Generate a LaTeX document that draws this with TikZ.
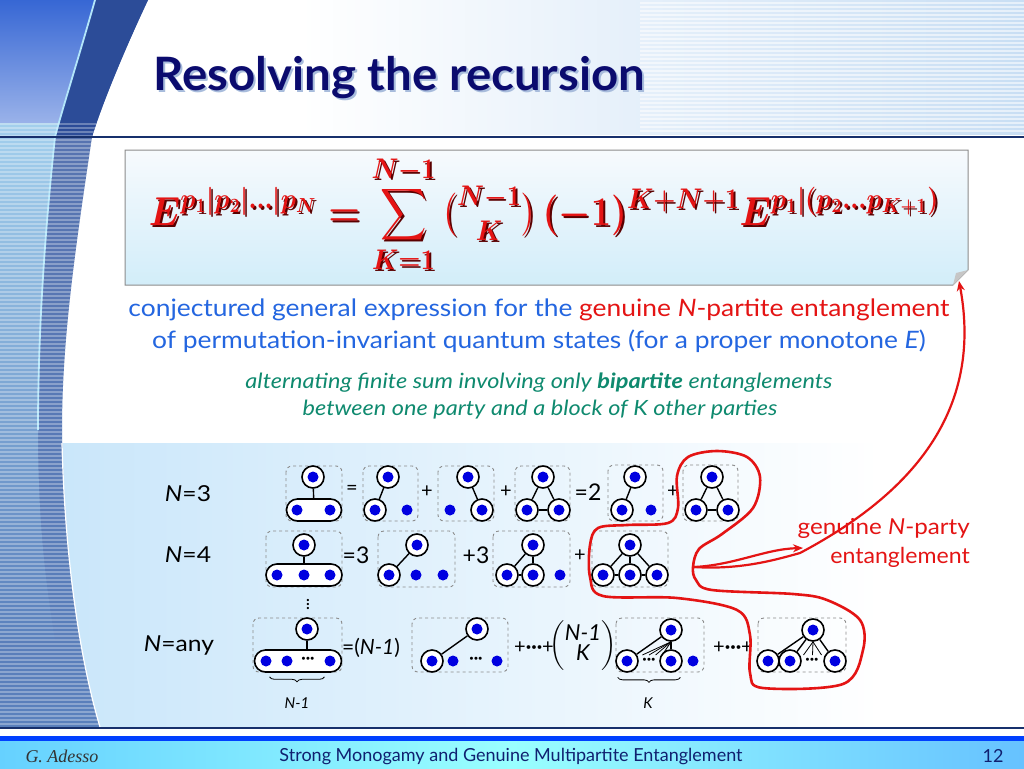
\RequirePackage{fix-cm}
\documentclass[tikz,border=0pt]{standalone}
\usepackage{amsmath}
\usepackage{fontspec}
\setmainfont{Lato}
\newfontfamily\firmafont{Liberation Serif}
\usepackage{xcolor}
\usepackage{tikz}
\usetikzlibrary{arrows.meta,positioning,shapes.misc,calc,decorations.pathreplacing}
\definecolor{marino}{HTML}{0B0B6E}
\definecolor{sombra}{HTML}{A8BCDC}
\definecolor{linea}{HTML}{17306C}
\definecolor{cielo}{HTML}{C8DEF4}
\definecolor{azulhoja}{HTML}{3767D4}
\definecolor{azulclaro}{HTML}{B4E2F8}
\definecolor{banda}{HTML}{2C4C98}
\definecolor{bandaclara}{HTML}{5A80BC}
\definecolor{rojo}{HTML}{E41414}
\definecolor{rojosombra}{HTML}{5A0000}
\definecolor{azultexto}{HTML}{2466E0}
\definecolor{verde}{HTML}{0F8A6F}
\definecolor{panel}{HTML}{C9E6FA}
\definecolor{nodoazul}{HTML}{0000E0}
\definecolor{grismarco}{HTML}{8C8C8C}
\definecolor{pie}{HTML}{102070}
\newsavebox{\cajaformula}
\newsavebox{\cajasombra}
\newsavebox{\cajabinom}
\newsavebox{\cajavpuntos}
\newcommand{\cuerpoformula}{\scalebox{1}[1.12]{\resizebox{790pt}{!}{\fontsize{28}{32}\selectfont\boldmath$\displaystyle E^{p_1\vert p_2\vert\ldots\vert p_N} = \sum_{K=1}^{N-1}{\textstyle\binom{N-1}{K}}\,(-1)^{K+N+1}E^{p_1\vert(p_2\ldots p_{K+1})}$}}}

\begin{document}
\sbox{\cajaformula}{\color{rojo}\cuerpoformula}%
\sbox{\cajasombra}{\color{rojosombra}\cuerpoformula}%
\sbox{\cajabinom}{\fontsize{22}{22}\selectfont$\left(\begin{matrix}\textit{N-1}\\[-2pt] \textit{K}\end{matrix}\right)$}%
\sbox{\cajavpuntos}{\fontsize{18}{18}\selectfont\boldmath$\vdots$}%
\begin{tikzpicture}[x=1pt,y=-1pt,
  ring/.style={circle,draw=black,line width=1.6pt,fill=white,minimum size=22pt,inner sep=0pt,
    path picture={\fill[nodoazul] (path picture bounding box.center) circle (5.5pt);}},
  dot/.style={circle,fill=nodoazul,minimum size=11pt,inner sep=0pt},
  capsula/.style={rounded rectangle,draw=black,line width=1.6pt,fill=white,minimum height=22pt,inner sep=0pt},
  marco/.style={draw=grismarco,dashed,line width=0.9pt,rounded corners=6pt},
  enlace/.style={line width=1.4pt},
  rayo/.style={line width=0.8pt},
  signo/.style={font=\fontsize{20}{20}\selectfont,inner sep=0pt},
  puntos/.style={font=\fontsize{16}{16}\selectfont\bfseries,inner sep=0pt},
  etiq/.style={font=\fontsize{22}{22}\selectfont,inner sep=0pt},
  llave/.style={decorate,decoration={brace,amplitude=5pt,mirror},line width=0.8pt},
  lazo/.style={draw=rojo,line width=2.6pt},
  flecha/.style={-{Stealth[length=10pt,width=8pt]},draw=rojo,line width=2.2pt},
  ecuacion/.style={inner sep=0pt}]
\useasboundingbox (0,0) rectangle (1024,768);
\fill[white] (0,0) rectangle (1024,768);
% cabecera
\shade[left color=white,right color=cielo] (300,0) rectangle (1024,134);
\foreach \y in {3,7,...,131} \draw[white,line width=1.5pt,opacity=0.55] (640,\y) -- (1024,\y);
% panel de diagramas
\shade[left color=panel,right color=white] (50,443) rectangle (880,726);
% banda izquierda
\shade[top color=banda!80!white,bottom color=bandaclara] (0,0) -- (148,0) .. controls (122,55) and (100,110) .. (92,137) .. controls (75,250) and (62,340) .. (62,430) .. controls (64,560) and (80,660) .. (100,727) -- (0,727) -- cycle;
\begin{scope}
  \clip (0,0) rectangle (150,137);
  \fill[banda] (95,0) -- (148,0) .. controls (122,55) and (100,110) .. (92,137) -- (55,137) .. controls (62,110) and (78,60) .. (95,0) -- cycle;
\end{scope}
\begin{scope}
  \clip (0,122) rectangle (150,727);
  \shade[top color=azulclaro,bottom color=bandaclara] (0,0) -- (95,0) .. controls (78,60) and (62,110) .. (55,137) .. controls (45,230) and (38,330) .. (38,430) .. controls (38,520) and (45,580) .. (55,640) -- (0,640) -- cycle;
\end{scope}
\begin{scope}
  \clip (0,0) rectangle (150,122);
  \shade[top color=azulhoja,bottom color=azulhoja!45!white] (0,0) -- (95,0) .. controls (78,60) and (62,110) .. (55,137) -- (0,137) -- cycle;
\end{scope}
\draw[white!70!cyan,line width=1.8pt] (95,0) .. controls (78,60) and (62,110) .. (55,137) .. controls (45,230) and (38,330) .. (38,430);
\draw[white,line width=1.2pt] (62,443) .. controls (65,560) and (80,660) .. (100,727);
\begin{scope}
  \clip (0,122) -- (150,122) -- (150,0) -- (148,0) .. controls (122,55) and (100,110) .. (92,137) .. controls (75,250) and (62,340) .. (62,430) .. controls (64,560) and (80,660) .. (100,727) -- (0,727) -- cycle;
  \foreach \y in {124,128,...,724} \draw[white,line width=1.2pt,opacity=0.3] (0,\y) -- (150,\y);
\end{scope}
\draw[linea,line width=2.5pt] (0,137) -- (1024,137);
% titulo
\node[anchor=base west,text=sombra,font=\fontsize{46}{50}\selectfont\bfseries] at (152,92) {\scalebox{1.03}[1]{Resolving the recursion}};
\node[anchor=base west,text=marino,font=\fontsize{46}{50}\selectfont\bfseries] (titulo) at (150,90) {\scalebox{1.03}[1]{Resolving the recursion}};
% recuadro de la formula
\shade[top color=white!85!cielo,bottom color=cielo!90!cyan!60,draw=grismarco,line width=1pt] (125,150) -- (968,150) -- (968,270) -- (953,285) -- (125,285) -- cycle;
\fill[gray!45] (968,270) -- (953,285) -- (956,273) -- cycle;
\coordinate (pliegue) at (959,281);
\node[ecuacion] (formulasombra) at (546,216) {\usebox{\cajasombra}};
\node[ecuacion] (formula) at (544,214) {\usebox{\cajaformula}};
% textos
\node[text=azultexto,font=\fontsize{24}{28}\selectfont] (texto1) at (539,310) {\scalebox{1.1}[1]{conjectured general expression for the \textcolor{rojo}{genuine \textit{N}-partite entanglement}}};
\node[text=azultexto,font=\fontsize{24}{28}\selectfont] (texto2) at (539,341) {\scalebox{1.1}[1]{of permutation-invariant quantum states (for a proper monotone \textit{E})}};
\node[text=verde,font=\fontsize{21}{24}\selectfont\itshape] (nota1) at (539,383) {\scalebox{1.12}[1]{alternating finite sum involving only \textbf{bipartite} entanglements}};
\node[text=verde,font=\fontsize{21}{24}\selectfont\itshape] (nota2) at (540,410) {\scalebox{1.12}[1]{between one party and a block of K other parties}};
% fila N=3
\node[etiq] (n3) at (188,494) {\scalebox{1.12}[1]{\textit{N}=3}};
\draw[marco] (286,466) rectangle (342,521);
\node[capsula,minimum width=55pt] (c31) at (314,510) {};
\node[ring] (t31) at (313,477) {};
\node[dot] at (297,510) {};
\node[dot] at (330,510) {};
\draw[enlace] (t31) -- (c31);
\node[signo] (e31) at (352,490) {=};
\draw[marco] (363,466) rectangle (418,521);
\node[ring] (t32) at (388,477) {};
\node[ring] (l32) at (375,510) {};
\node[dot] (r32) at (407,510) {};
\draw[enlace] (t32) -- (l32);
\node[signo] (e32) at (427,492) {+};
\draw[marco] (438,466) rectangle (494,521);
\node[ring] (t33) at (468,477) {};
\node[dot] (l33) at (450,510) {};
\node[ring] (r33) at (482,510) {};
\draw[enlace] (t33) -- (r33);
\node[signo] (e33) at (506,492) {+};
\draw[marco] (515,466) rectangle (570,521);
\node[ring] (t34) at (543,477) {};
\node[ring] (l34) at (527,510) {};
\node[ring] (r34) at (559,510) {};
\draw[enlace] (t34) -- (l34);
\draw[enlace] (t34) -- (r34);
\draw[enlace] (l34) -- (r34);
\node[signo,font=\fontsize{23}{23}\selectfont] (e34) at (588,492) {=2};
\draw[marco] (608,465) rectangle (663,521);
\node[ring] (t35) at (635,477) {};
\node[ring] (l35) at (622,510) {};
\node[dot] (r35) at (651,510) {};
\draw[enlace] (t35) -- (l35);
\node[signo] (e35) at (673,492) {+};
\draw[marco] (683,465) rectangle (738,521);
\node[ring] (t36) at (712,477) {};
\node[ring] (l36) at (696,510) {};
\node[ring] (r36) at (728,510) {};
\draw[enlace] (t36) -- (l36);
\draw[enlace] (t36) -- (r36);
\draw[enlace] (l36) -- (r36);
% fila N=4
\node[etiq] (n4) at (188,555) {\scalebox{1.12}[1]{\textit{N}=4}};
\draw[marco] (266,531) rectangle (342,587);
\node[capsula,minimum width=76pt] (c41) at (304,575) {};
\node[ring] (t41) at (304,545) {};
\foreach \x in {277,304,330} \node[dot] at (\x,575) {};
\draw[enlace] (t41) -- (c41);
\node[signo,font=\fontsize{23}{23}\selectfont] (e41) at (356,555) {=3};
\draw[marco] (378,531) rectangle (455,587);
\node[ring] (t42) at (417,545) {};
\node[ring] (a42) at (389,575) {};
\node[dot] at (416,575) {};
\node[dot] at (443,575) {};
\draw[enlace] (t42) -- (a42);
\node[signo,font=\fontsize{23}{23}\selectfont] (e42) at (476,555) {+3};
\draw[marco] (493,531) rectangle (570,587);
\node[ring] (t43) at (533,545) {};
\node[ring] (a43) at (507,575) {};
\node[ring] (b43) at (533,575) {};
\node[dot] at (560,575) {};
\draw[enlace] (t43) -- (a43);
\draw[enlace] (t43) -- (b43);
\draw[enlace] (a43) -- (b43);
\node[signo] (e43) at (580,556) {+};
\draw[marco] (592,531) rectangle (668,587);
\node[ring] (t44) at (630,545) {};
\node[ring] (a44) at (603,575) {};
\node[ring] (b44) at (630,575) {};
\node[ring] (c44) at (657,575) {};
\draw[enlace] (t44) -- (a44);
\draw[enlace] (t44) -- (b44);
\draw[enlace] (t44) -- (c44);
\draw[enlace] (a44) -- (b44);
\draw[enlace] (b44) -- (c44);
\node[inner sep=0pt] (vpuntos) at (308,601) {\usebox{\cajavpuntos}};
% fila N=any
\node[etiq] (nany) at (179,645) {\scalebox{1.12}[1]{\textit{N}=any}};
\draw[marco] (253,618) rectangle (342,672);
\node[capsula,minimum width=87pt] (c51) at (298,661) {};
\node[ring] (t51) at (307,629) {};
\node[dot] at (266,661) {};
\node[dot] at (287,661) {};
\node[puntos] at (308,660) {···};
\node[dot] at (330,661) {};
\draw[enlace] (t51) -- (t51 |- c51.north);
\draw[llave] ($(c51.south west)+(4,4)$) -- ($(c51.south east)+(-6,4)$);
\node[font=\fontsize{15}{15}\selectfont\itshape] (lab1) at (297,703) {N-1};
\node[signo,font=\fontsize{21}{21}\selectfont] (e51) at (371,648) {=(\textit{N-1})};
\draw[marco] (412,618) rectangle (508,672);
\node[ring] (t52) at (477,629) {};
\node[ring] (a52) at (432,661) {};
\node[dot] at (453,661) {};
\node[puntos] at (476,660) {···};
\node[dot] at (497,661) {};
\draw[enlace] (t52) -- (a52);
\node[signo] (e52) at (534,648) {+\textbf{···}+};
\node[inner sep=0pt] (binom) at (583,646) {\usebox{\cajabinom}};
\draw[marco] (616,618) rectangle (704,672);
\node[ring] (t53) at (671,630) {};
\node[ring] (a53) at (627,661) {};
\node[ring] (b53) at (671,661) {};
\node[puntos] at (649,661) {···};
\node[dot] at (693,661) {};
\draw[enlace] (t53) -- (a53);
\draw[enlace] (t53) -- (b53);
\foreach \f in {0.35,0.5,0.65,0.8} \draw[rayo] (t53.south) -- ($(a53)!\f!(b53)+(0,-6)$);
\draw[llave] ($(a53.south west)+(-1,8)$) -- ($(b53.south east)+(1,8)$);
\node[font=\fontsize{15}{15}\selectfont\itshape] (lab2) at (648,703) {K};
\node[signo] (e53) at (733,648) {+\textbf{···}+};
\draw[marco] (758,618) rectangle (846,672);
\node[ring] (t54) at (813,630) {};
\node[ring] (a54) at (768,661) {};
\node[ring] (b54) at (790,661) {};
\node[puntos] at (812,661) {···};
\node[ring] (c54) at (835,661) {};
\draw[enlace] (t54) -- (a54);
\draw[enlace] (t54) -- (b54);
\draw[enlace] (t54) -- (c54);
\foreach \f in {0.3,0.5,0.7} \draw[rayo] (t54.south) -- ($(b54)!\f!(c54)+(0,-6)$);
% lazo rojo y flechas
\draw[lazo] plot[smooth cycle,tension=0.55] coordinates {(693,567) (699,549) (722,534) (753,508) (760,477) (747,457) (717,451) (688,457) (677,476) (678,508) (668,523) (627,525) (598,528) (590,545) (590,577) (603,596) (677,598) (737,610) (750,635) (750,673) (763,688) (843,684) (863,650) (860,620) (827,600) (793,594) (712,590) (696,580)};
\coordinate (nudo) at (694,567);
\node[text=rojo,font=\fontsize{22}{26}\selectfont,anchor=east,inner sep=0pt] (gen1) at (970,528) {\scalebox{1.1}[1]{genuine \textit{N}-party}};
\node[text=rojo,font=\fontsize{22}{26}\selectfont,anchor=east,inner sep=0pt] (gen2) at (970,557) {\scalebox{1.05}[1]{entanglement}};
\draw[flecha] (nudo) .. controls (735,565) and (765,549) .. (803,548);
\draw[flecha] (nudo) .. controls (740,570) and (775,560) .. (800,553) .. controls (900,500) and (985,420) .. (pliegue);
% pie
\draw[linea,line width=2.5pt] (0,728) -- (1024,728);
\shade[left color=blue!30!cyan!60!white,right color=blue!40!cyan!60!white,middle color=cyan!40!white] (0,736) rectangle (1024,768);
\fill[blue!75!cyan] (0,736) rectangle (1024,741);
\node[font=\fontsize{18}{20}\selectfont\firmafont\itshape,text=black!80] (autor) at (62,756) {G. Adesso};
\node[font=\fontsize{18}{20}\selectfont,text=pie] (charla) at (511,757) {Strong Monogamy and Genuine Multipartite Entanglement};
\node[font=\fontsize{18}{20}\selectfont,text=pie] (pagina) at (993,756) {12};
\end{tikzpicture}
\end{document}
